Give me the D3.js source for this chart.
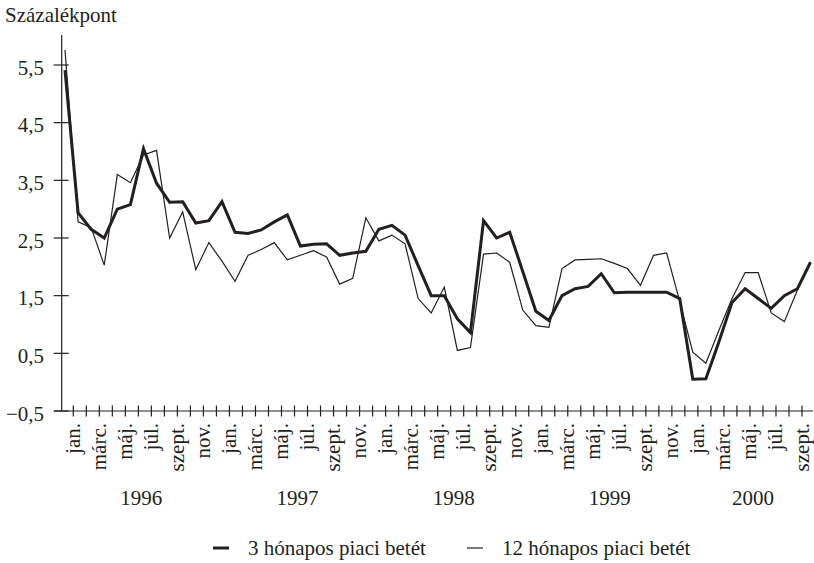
<!DOCTYPE html>
<html><head><meta charset="utf-8">
<script src="https://cdn.jsdelivr.net/npm/d3@7"></script>
<style>
body{margin:0;background:#fff}
text{font-family:"Liberation Serif","Times New Roman",Times,serif;fill:#231f20}
</style>
</head><body>
<svg id="c" width="814" height="563" font-family="'Liberation Serif','Times New Roman',Times,serif"></svg>
<script>
// months from jan. 1996 to okt. 2000 (58 months)
const monthNames = ["jan.","febr.","márc.","ápr.","máj.","jún.","júl.","aug.","szept.","okt.","nov.","dec."];
const years = ["1996","1997","1998","1999","2000"];
const threeMonth = [5.41,2.94,2.65,2.5,3.0,3.08,4.05,3.45,3.12,3.13,2.76,2.8,
  3.13,2.6,2.58,2.64,2.78,2.9,2.36,2.39,2.4,2.2,2.24,2.27,
  2.65,2.72,2.55,2.02,1.5,1.5,1.1,0.86,2.8,2.5,2.6,1.92,
  1.23,1.07,1.5,1.62,1.66,1.88,1.55,1.56,1.56,1.56,1.56,1.45,
  0.05,0.06,0.7,1.38,1.62,1.45,1.28,1.5,1.62,2.08];
const twelveMonth = [5.76,2.78,2.68,2.03,3.6,3.46,3.94,4.02,2.5,2.95,1.95,2.42,
  2.1,1.75,2.2,2.3,2.42,2.12,2.2,2.28,2.17,1.7,1.8,2.85,
  2.45,2.55,2.4,1.45,1.2,1.65,0.55,0.6,2.22,2.24,2.08,1.25,
  0.98,0.95,1.97,2.12,2.13,2.14,2.06,1.97,1.68,2.2,2.24,1.4,
  0.52,0.33,0.9,1.45,1.9,1.9,1.2,1.05,1.6,2.08];
const yTicks = [-0.5,0.5,1.5,2.5,3.5,4.5,5.5];
const seriesNames = ["3 hónapos piaci betét","12 hónapos piaci betét"];

const svg = d3.select("#c");
const ink = "#231f20";
const n = threeMonth.length;
const nTicks = n - 1; // jan. 1996 ... szept. 2000
const x = d3.scaleLinear().domain([0, n-1]).range([65, 810.5]);
const xt = d3.scaleLinear().domain([0, nTicks-1]).range([73.3, 802]);
const y = d3.scaleLinear().domain([-0.5, 5.5]).range([411, 65]);
const axisX = 61.7;

// y axis
svg.append("line").attr("x1",axisX).attr("x2",axisX).attr("y1",35).attr("y2",y(-0.5))
  .attr("stroke",ink).attr("stroke-width",1.2);
const fmt = v => d3.format(".1f")(v).replace(".",",").replace("-","\u2013");
yTicks.forEach(v=>{
  svg.append("line").attr("x1",axisX-8).attr("x2",axisX+7).attr("y1",y(v)).attr("y2",y(v))
    .attr("stroke",ink).attr("stroke-width",1.2);
  svg.append("text").attr("x",44).attr("y",y(v)+9.5).attr("text-anchor","end")
    .attr("font-size",21).text(fmt(v));
});
svg.append("text").attr("x",5).attr("y",22).attr("font-size",21).text("Százalékpont");

// x axis
svg.append("line").attr("x1",54).attr("x2",813).attr("y1",y(-0.5)).attr("y2",y(-0.5))
  .attr("stroke",ink).attr("stroke-width",1.2);
d3.range(nTicks).forEach(j=>{
  const tx = xt(j);
  svg.append("line").attr("x1",tx).attr("x2",tx).attr("y1",y(-0.5)-5.5).attr("y2",y(-0.5)+5.5)
    .attr("stroke",ink).attr("stroke-width",1.2);
  if (j % 2 === 0) {
    svg.append("text").attr("transform",`translate(${tx+6.5},423) rotate(-90)`)
      .attr("text-anchor","end").attr("font-size",21).text(monthNames[j%12]);
  }
});
years.forEach((yr,k)=>{
  const first = k*12, last = Math.min(k*12+11, nTicks-1);
  svg.append("text").attr("x",xt(Math.floor((first+last)/2))+3).attr("y",505).attr("text-anchor","middle")
    .attr("font-size",21).text(yr);
});

// lines
const line = d3.line().x((d,i)=>x(i)).y(d=>y(d));
svg.append("path").datum(twelveMonth).attr("d",line).attr("fill","none")
  .attr("stroke",ink).attr("stroke-width",1.2).attr("stroke-linejoin","miter");
svg.append("path").datum(threeMonth).attr("d",line).attr("fill","none")
  .attr("stroke",ink).attr("stroke-width",3).attr("stroke-linejoin","miter");

// legend
const lg = [{x:213, w:3, t:seriesNames[0]},{x:467, w:1.2, t:seriesNames[1]}];
lg.forEach(d=>{
  svg.append("line").attr("x1",d.x).attr("x2",d.x+16).attr("y1",548).attr("y2",548)
    .attr("stroke",ink).attr("stroke-width",d.w);
  svg.append("text").attr("x",d.x+35).attr("y",555).attr("font-size",21).text(d.t);
});
</script>
</body></html>
